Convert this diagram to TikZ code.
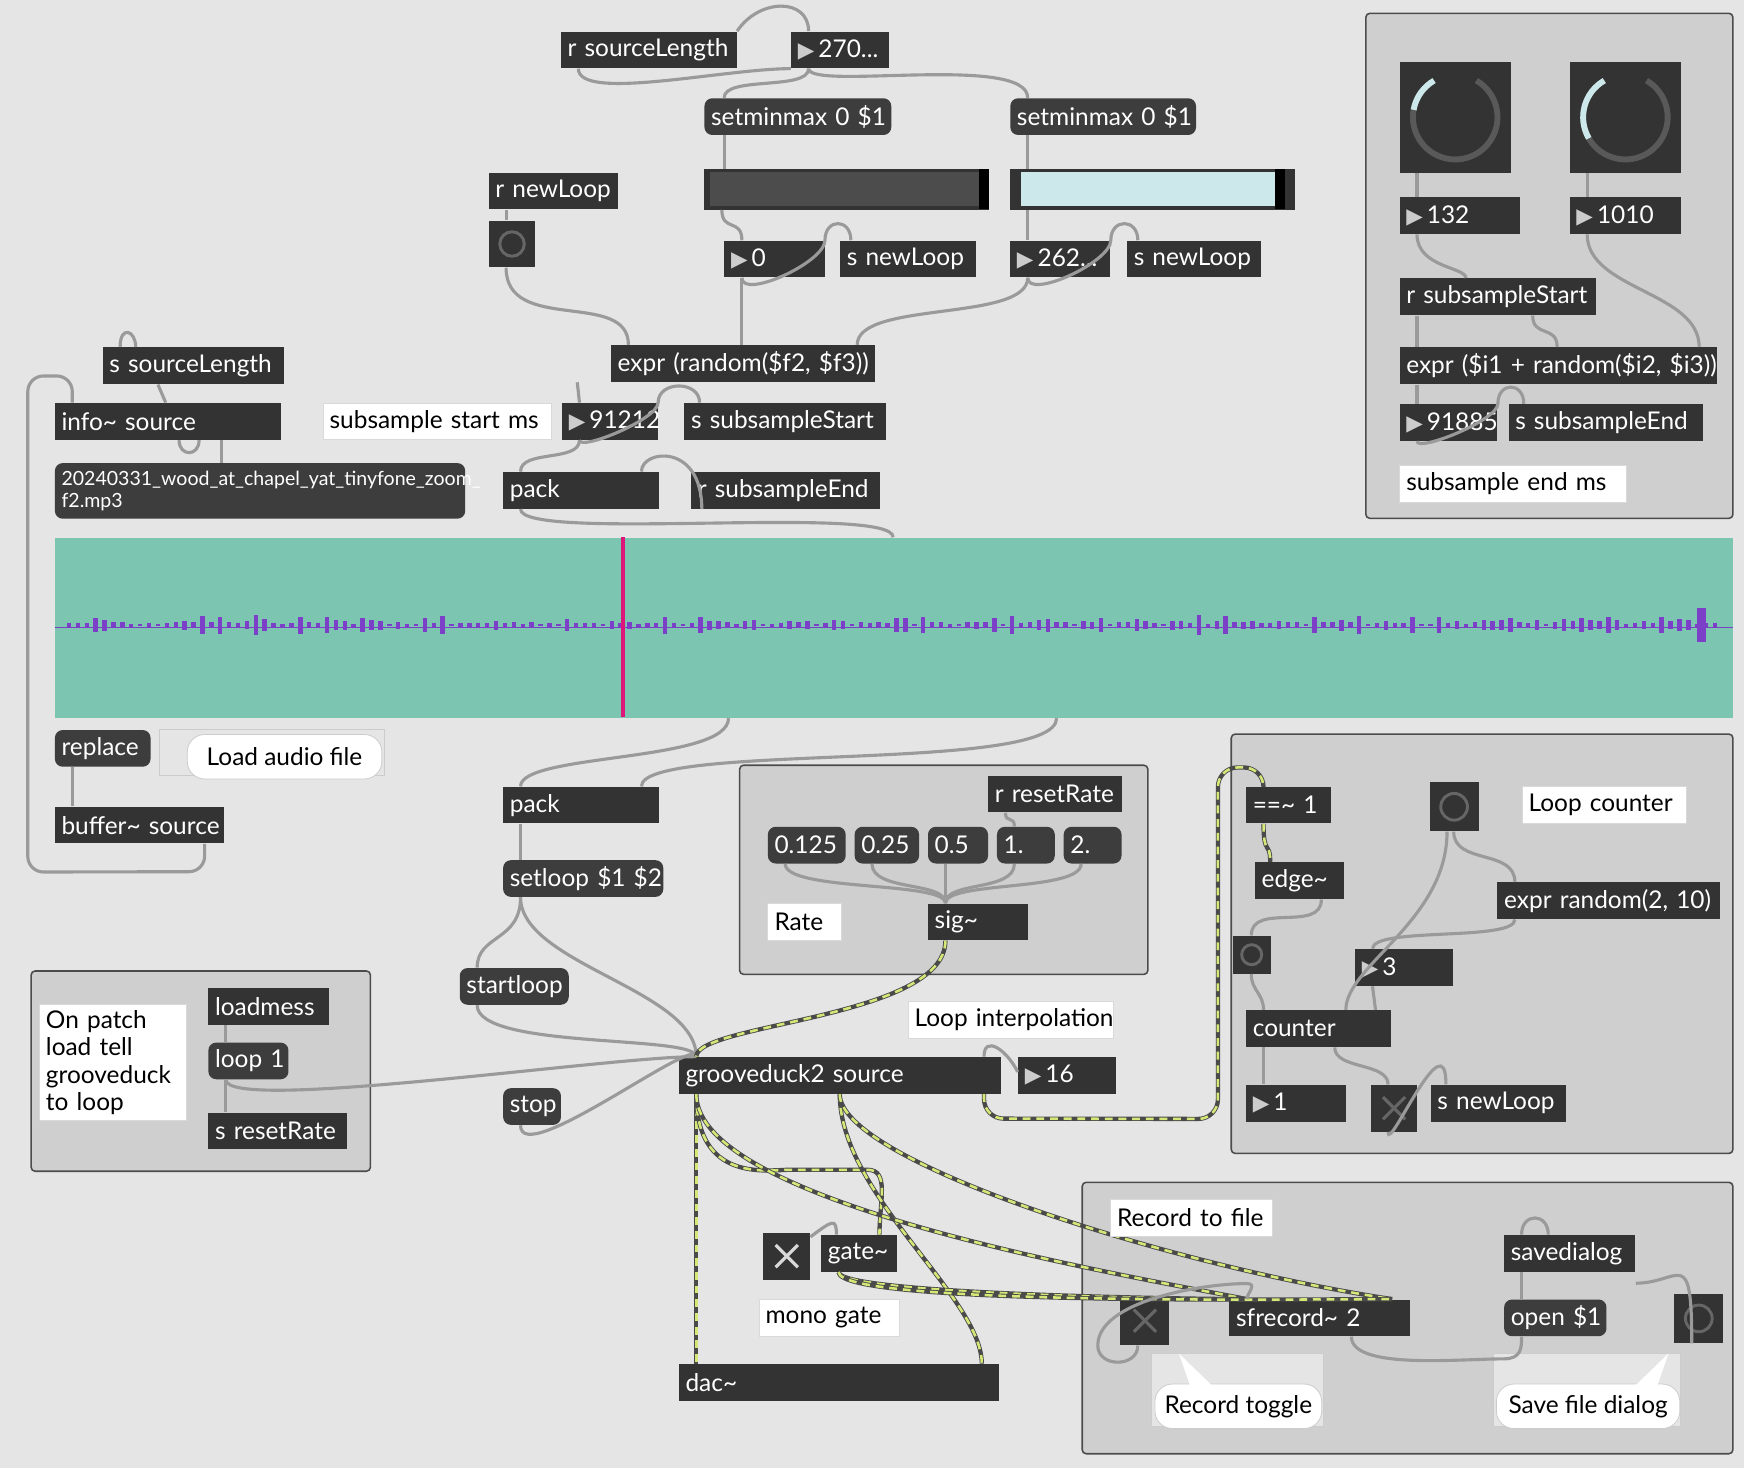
\documentclass[tikz,border=0pt]{standalone}
\usepackage{fontspec}
\setmainfont{Lato}
\newfontfamily\dejavu{DejaVu Sans}
\usetikzlibrary{calc}
\definecolor{maxbg}{HTML}{E5E5E5}
\definecolor{maxobj}{HTML}{333333}
\definecolor{maxmsg}{HTML}{3D3D3D}
\definecolor{panel}{HTML}{CFCFCF}
\definecolor{cordgray}{HTML}{9A9A9A}
\definecolor{sigdark}{HTML}{4A4A4A}
\definecolor{sigyel}{HTML}{D4E878}
\definecolor{wave}{HTML}{7CC5B1}
\definecolor{wavep}{HTML}{7B3FC8}
\definecolor{dialc}{HTML}{CDE8EA}
\newcommand\tri{{\dejavu\fontsize{11}{11}\selectfont\color{black!20}▶}\,}
\newcommand\tx{\textasciitilde}
\tikzset{
  objbox/.style={anchor=north west, fill=maxobj, text=white, inner xsep=0.12cm, inner ysep=0pt,
    minimum height=0.66cm, align=left, font=\fontsize{12.5}{14}\selectfont},
  msgbox/.style={objbox, fill=maxmsg, rounded corners=4pt},
  cmtbox/.style={objbox, fill=white, text=black, draw=white!85!black},
  panelbox/.style={fill=panel, draw=black!70, line width=0.8pt, rounded corners=2pt},
  cord/.style={draw=cordgray, line width=1.6pt},
  sig/.style={draw=sigdark, line width=2.2pt, postaction={draw=sigyel, line width=1.3pt, dash pattern=on 4pt off 3pt}},
  uibox/.style={anchor=north west, fill=maxobj, inner sep=0pt},
  bubble/.style={anchor=north west, fill=white, draw=white!80!black, rounded corners=9pt,
    minimum height=0.8cm, font=\fontsize{12.5}{14}\selectfont}
}
% box of width w (pixels) with left text on one line
\newcommand\obj[6][]{\pgfmathsetlengthmacro\tw{(#5-12)*0.02cm}%
  \node[objbox,text width=\tw,#1] (#2) at (#3,#4) {\mbox{#6}};}
\newcommand\ui[5][]{\pgfmathsetlengthmacro\tw{#4*0.02cm}\pgfmathsetlengthmacro\th{#5*0.02cm}%
  \node[uibox,minimum width=\tw,minimum height=\th,#1] (#2) at (#3) {};}
\begin{document}
\begin{tikzpicture}[x=0.02cm,y=-0.02cm]
\useasboundingbox (0,0) rectangle (1568,1320);
\fill[maxbg] (0,0) rectangle (1568,1320);
% panels
\draw[panelbox] (1228,12) rectangle (1558,466);
\draw[panelbox] (665,688) rectangle (1032,876);
\draw[panelbox] (28,873) rectangle (333,1053);
\draw[panelbox] (1107,660) rectangle (1558,1037);
\draw[panelbox] (973,1063) rectangle (1558,1307);

% top area
\obj{rsl}{504}{28}{158}{r sourceLength}
\obj{nlen}{711}{28}{88}{\tri270...}
\obj[msgbox]{smma}{633}{88}{168}{setminmax 0 \$1}
\obj[msgbox]{smmb}{908}{88}{167}{setminmax 0 \$1}
\ui{sla}{633,152}{256}{36}
\fill[black!70] (638,155) rectangle (880,185);
\fill[black] (880,152) rectangle (889,188);
\ui{slb}{908,152}{256}{36}
\fill[dialc] (918,155) rectangle (1146,185);
\fill[black] (1146,152) rectangle (1155,188);
\obj{rnl}{439}{155}{116}{r newLoop}
\ui{btna}{439,198}{42}{42}
\draw[black!60, line width=1.5pt] (btna.center) circle (11);
\obj{nzero}{651}{216}{90}{\tri0}
\obj{snla}{755}{216}{122}{s newLoop}
\obj{nmax}{908}{216}{90}{\tri262...}
\obj{snlb}{1013}{216}{120}{s newLoop}
\obj{exa}{549}{310}{237}{expr (random(\$f2, \$f3))}
\obj{ssl}{92}{312}{163}{s sourceLength}
\obj{info}{49}{362}{203}{info\tx{} source}
\obj[cmtbox]{cstart}{290}{362}{205}{subsample start ms}
\obj{nstart}{505}{362}{86}{\tri91212}
\obj{sss}{615}{362}{181}{s subsampleStart}
\node[msgbox,text width=7.14cm,minimum height=1cm,font=\fontsize{10}{11}\selectfont] (file) at (49,416) {20240331\_wood\_at\_chapel\_yat\_tinyfone\_zoom\_\\f2.mp3};
\obj{packa}{452}{424}{140}{pack}
\obj{rse}{621}{424}{170}{r subsampleEnd}

% waveform
\node[anchor=north west, fill=wave, minimum width=30.18cm, minimum height=3.24cm, inner sep=0pt] (wf) at (49,483) {};
\draw[wavep, line width=0.8pt] (wf.west) -- (wf.east);
\pgfmathsetseed{7}
\foreach \x in {60,68,...,1540}{
  \pgfmathsetmacro\hh{rnd*rnd*9+1}
  \fill[wavep] (\x,562-\hh) rectangle (\x+4,562+\hh);
}
\fill[wavep] (1526,547) rectangle (1534,577);
\draw[magenta!70!purple, line width=2pt] (560,483) -- (560,645);

\obj[msgbox]{repl}{49}{656}{86}{replace}
\draw[white!80!black, fill=maxbg] (143,656) rectangle (346,697);
\node[bubble, minimum width=3.5cm] (cload) at (168,660) {Load audio file};
\obj{buf}{49}{725}{152}{buffer\tx{} source}
\obj{packb}{452}{707}{140}{pack}
\obj[msgbox]{setl}{452}{773}{144}{setloop \$1 \$2}
\obj[msgbox]{startl}{413}{870}{98}{startloop}
\obj[msgbox]{stopm}{452}{978}{52}{stop}
\obj{gd}{610}{950}{290}{grooveduck2 source}
\obj{nint}{915}{950}{88}{\tri16}
\obj[cmtbox]{cint}{816}{900}{185}{Loop interpolation}

% rate panel
\obj{rrr}{888}{697}{120}{r resetRate}
\obj[msgbox]{ra}{690}{743}{70}{0.125}
\obj[msgbox]{rb}{768}{743}{58}{0.25}
\obj[msgbox]{rc}{834}{743}{54}{0.5}
\obj[msgbox]{rd}{896}{743}{52}{1.}
\obj[msgbox]{re}{956}{743}{52}{2.}
\obj[cmtbox]{crate}{690}{812}{66}{Rate}
\obj{sigo}{834}{812}{90}{sig\tx}

% patch load panel
\node[cmtbox,text width=2.4cm,minimum height=2.08cm] (cload2) at (35,903) {On patch\\load tell\\grooveduck\\to loop};
\obj{lmess}{187}{888}{108}{loadmess}
\obj[msgbox]{loopm}{187}{937}{72}{loop 1}
\obj{srr}{187}{1000}{125}{s resetRate}

% output
\obj{dac}{610}{1226}{288}{dac\tx}
\ui{tga}{686,1108}{42}{42}
\draw[white!85!black, line width=1.6pt] ($(tga.center)+(-10,-10)$) -- ($(tga.center)+(10,10)$) ($(tga.center)+(-10,10)$) -- ($(tga.center)+(10,-10)$);
\obj{gate}{738}{1110}{68}{gate\tx}
\obj[cmtbox]{cmono}{682}{1168}{126}{mono gate}

% subsample end panel
\ui{dla}{1258,55}{100}{100}
\ui{dlb}{1411,55}{100}{100}
\draw[black!65, line width=3pt] ($(dla.center)+(-60:38)$) arc (-60:240:38);
\draw[dialc, line width=3pt] ($(dla.center)+(190:38)$) arc (190:240:38);
\draw[black!65, line width=3pt] ($(dlb.center)+(-60:38)$) arc (-60:240:38);
\draw[dialc, line width=3pt] ($(dlb.center)+(150:38)$) arc (150:240:38);
\obj{nlo}{1258}{177}{108}{\tri132}
\obj{nhi}{1411}{177}{100}{\tri1010}
\obj{rss}{1258}{250}{177}{r subsampleStart}
\obj{exb}{1258}{312}{285}{expr (\$i1 + random(\$i2, \$i3))}
\obj{nend}{1258}{363}{88}{\tri91885}
\obj{sse}{1356}{363}{175}{s subsampleEnd}
\obj[cmtbox]{cend}{1258}{418}{204}{subsample end ms}

% loop counter panel
\obj{eq}{1120}{707}{76}{==\tx{} 1}
\ui{btnb}{1285,703}{44}{44}
\draw[black!60, line width=1.5pt] (btnb.center) circle (12);
\obj[cmtbox]{ccount}{1368}{707}{148}{Loop counter}
\obj{edge}{1128}{775}{80}{edge\tx}
\obj{exc}{1346}{793}{200}{expr random(2, 10)}
\ui{btnc}{1108,841}{34}{34}
\draw[black!60, line width=1.5pt] (btnc.center) circle (9);
\obj{nthr}{1218}{853}{88}{\tri3}
\obj{cnt}{1120}{908}{130}{counter}
\obj{ncnt}{1120}{975}{90}{\tri1}
\ui{tgb}{1232,975}{42}{42}
\draw[black!60, line width=1.6pt] ($(tgb.center)+(-10,-10)$) -- ($(tgb.center)+(10,10)$) ($(tgb.center)+(-10,10)$) -- ($(tgb.center)+(10,-10)$);
\obj{snlc}{1286}{975}{122}{s newLoop}

% record panel
\obj{sdlg}{1352}{1110}{118}{savedialog}
\ui{tgc}{1007,1165}{44}{44}
\draw[black!60, line width=1.6pt] ($(tgc.center)+(-10,-10)$) -- ($(tgc.center)+(10,10)$) ($(tgc.center)+(-10,10)$) -- ($(tgc.center)+(10,-10)$);
\obj{sfr}{1105}{1168}{162}{sfrecord\tx{} 2}
\obj[msgbox]{openm}{1352}{1168}{92}{open \$1}
\ui{btnd}{1505,1163}{44}{44}
\draw[black!60, line width=1.5pt] (btnd.center) circle (12);
\draw[white!80!black, fill=maxbg] (1035,1217) rectangle (1190,1282);
\draw[white!80!black, fill=maxbg] (1343,1217) rectangle (1511,1282);
\node[bubble, minimum width=3.0cm] (ctog) at (1038,1244) {Record toggle};
\node[bubble, minimum width=3.3cm] (cdlg) at (1345,1244) {Save file dialog};
\fill[white] (1060,1217) -- (1090,1246) -- (1070,1246) -- cycle;
\fill[white] (1500,1217) -- (1470,1246) -- (1490,1246) -- cycle;

% cords
\draw[cord] ($(rsl.south west)+(16,0)$) .. controls +(0,30) and +(-60,0) .. ($(nlen.south west)+(0,0)$);
\draw[cord] ($(rsl.north east)+(0,0)$) .. controls +(20,-30) and +(0,-30) .. ($(nlen.north west)+(16,0)$);
\draw[cord] ($(nlen.south west)+(16,0)$) .. controls +(0,20) and +(0,-20) .. ($(smma.north west)+(18,0)$);
\draw[cord] ($(nlen.south west)+(16,0)$) .. controls +(0,20) and +(0,-40) .. ($(smmb.north west)+(16,0)$);
\draw[cord] ($(smma.south west)+(18,0)$) -- ($(sla.north west)+(18,0)$);
\draw[cord] ($(smmb.south west)+(16,0)$) -- ($(slb.north west)+(16,0)$);
\draw[cord] ($(sla.south west)+(16,0)$) .. controls +(0,20) and +(0,-20) .. ($(nzero.north west)+(16,0)$);
\draw[cord] ($(slb.south west)+(16,0)$) -- ($(nmax.north west)+(16,0)$);
\draw[cord] ($(nzero.south west)+(16,0)$) .. controls +(0,20) and +(0,20) .. ($(nzero.north east)+(0,0)$) .. controls +(0,-20) and +(0,-20) .. ($(snla.north west)+(10,0)$);
\draw[cord] ($(nmax.south west)+(16,0)$) .. controls +(0,20) and +(0,20) .. ($(nmax.north east)+(0,0)$) .. controls +(0,-20) and +(0,-20) .. ($(snlb.north west)+(10,0)$);
\draw[cord] ($(nzero.south west)+(16,0)$) -- ($(exa.north west)+(118,0)$);
\draw[cord] ($(nmax.south west)+(16,0)$) .. controls +(0,40) and +(0,-40) .. ($(exa.north east)+(-16,0)$);
\draw[cord] ($(rnl.south west)+(16,0)$) -- ($(btna.north west)+(16,0)$);
\draw[cord] ($(btna.south west)+(16,0)$) .. controls +(0,60) and +(0,-50) .. ($(exa.north west)+(16,0)$);
\draw[cord] ($(exa.south west)+(-30,0)$) -- ($(nstart.north west)+(16,0)$);
\draw[cord] ($(nstart.south west)+(16,0)$) .. controls +(0,10) and +(0,15) .. ($(nstart.north east)+(0,0)$) .. controls +(0,-20) and +(0,-20) .. ($(sss.north west)+(14,0)$);
\draw[cord] ($(nstart.south west)+(16,0)$) .. controls +(0,20) and +(0,-20) .. ($(packa.north west)+(16,0)$);
\draw[cord] ($(rse.south west)+(10,0)$) .. controls +(0,-60) and +(0,-20) .. ($(packa.north east)+(-16,0)$);
\draw[cord] ($(packa.south west)+(16,0)$) .. controls +(0,30) and +(0,-30) .. ($(wf.north west)+(754,0)$);
\draw[cord] ($(ssl.south west)+(50,0)$) -- ($(info.north west)+(100,0)$);
\draw[cord] ($(ssl.north west)+(16,0)$) .. controls +(0,-20) and +(0,-15) .. ($(ssl.north west)+(30,0)$);
\draw[cord] ($(info.south west)+(150,0)$) -- ($(file.north west)+(150,0)$);
\draw[cord] ($(info.south west)+(130,0)$) .. controls +(0,15) and +(0,15) .. ($(info.south west)+(112,0)$);
\draw[cord, rounded corners=8pt] ($(buf.south west)+(135,0)$) -- ($(buf.south west)+(135,25)$) -- (25,784) -- (25,338) -- ($(info.north west)+(16,-24)$) -- ($(info.north west)+(16,0)$);
\draw[cord] ($(repl.south west)+(16,0)$) -- ($(buf.north west)+(16,0)$);
\draw[cord] ($(wf.south west)+(606,0)$) .. controls +(0,40) and +(0,-30) .. ($(packb.north west)+(16,0)$);
\draw[cord] ($(wf.south west)+(901,0)$) .. controls +(0,50) and +(0,-40) .. ($(packb.north east)+(-16,0)$);
\draw[cord] ($(packb.south west)+(16,0)$) -- ($(setl.north west)+(16,0)$);
\draw[cord] ($(setl.south west)+(16,0)$) .. controls +(0,40) and +(0,-30) .. ($(startl.north west)+(16,0)$);
\draw[cord] ($(setl.south west)+(16,0)$) .. controls +(0,60) and +(0,-60) .. ($(gd.north west)+(16,0)$);
\draw[cord] ($(startl.south west)+(16,0)$) .. controls +(0,40) and +(0,-20) .. ($(gd.north west)+(16,0)$);
\draw[cord] ($(stopm.south west)+(16,0)$) .. controls +(0,40) and +(0,-20) .. ($(gd.north west)+(16,0)$);
\draw[cord] ($(loopm.south west)+(16,0)$) .. controls +(0,30) and +(-80,0) .. ($(gd.north west)+(16,0)$);
\draw[cord] ($(lmess.south west)+(16,0)$) -- ($(loopm.north west)+(16,0)$);
\draw[cord] ($(loopm.south west)+(16,0)$) -- ($(srr.north west)+(16,0)$);
\draw[cord] ($(nint.south west)+(0,-20)$) .. controls +(-10,-20) and +(0,-20) .. ($(gd.north east)+(-16,0)$);
\foreach \m in {ra,rb,rc,rd,re}{
  \draw[cord] ($(\m.south west)+(16,0)$) .. controls +(0,25) and +(0,-20) .. ($(sigo.north west)+(16,0)$);
}
\draw[cord] ($(rrr.south west)+(16,0)$) .. controls +(0,10) and +(0,-10) .. ($(rd.north west)+(16,0)$);
\draw[sig] ($(sigo.south west)+(16,0)$) .. controls +(0,70) and +(0,-30) .. ($(gd.north west)+(16,0)$);
% audio
\draw[sig] ($(gd.south west)+(16,0)$) -- ($(dac.north west)+(16,0)$);
\draw[sig] ($(gd.south west)+(16,0)$) .. controls +(0,80) and +(-20,0) .. ($(gd.south west)+(100,68)$) -- ($(gd.south west)+(170,68)$) .. controls +(20,0) and +(0,-30) .. ($(gate.north east)+(-16,0)$);
\draw[sig] ($(gd.south west)+(145,0)$) .. controls +(0,90) and +(0,-60) .. ($(dac.north east)+(-16,0)$);
\draw[sig] ($(gd.south west)+(16,0)$) .. controls +(0,100) and +(-100,-20) .. ($(sfr.north west)+(16,0)$);
\draw[sig] ($(gd.south west)+(145,0)$) .. controls +(0,60) and +(-200,-30) .. ($(sfr.north east)+(-16,0)$);
\draw[sig] ($(gate.south west)+(16,0)$) .. controls +(0,20) and +(-50,0) .. ($(sfr.north west)+(16,0)$);
\draw[sig] ($(gate.south west)+(16,0)$) .. controls +(0,30) and +(-80,0) .. ($(sfr.north east)+(-16,0)$);
\draw[sig, rounded corners=10pt] ($(gd.south east)+(-16,0)$) -- ($(gd.south east)+(-16,22)$) -- (1095,1006) -- (1095,690) -- ($(eq.north west)+(16,-17)$) -- ($(eq.north west)+(16,0)$);
\obj[cmtbox]{crec}{998}{1078}{146}{Record to file}
\draw[cord] ($(tga.north east)+(0,4)$) .. controls +(20,-15) and +(0,-15) .. ($(gate.north west)+(14,0)$);
\draw[sig] ($(eq.south west)+(16,0)$) .. controls +(0,30) and +(0,-20) .. ($(edge.north west)+(14,0)$);
\draw[cord] ($(edge.south west)+(60,0)$) .. controls +(0,30) and +(0,-30) .. ($(btnc.north west)+(17,0)$);
\draw[cord] ($(btnc.south west)+(17,0)$) .. controls +(0,15) and +(0,-15) .. ($(cnt.north west)+(16,0)$);
\draw[cord] ($(btnb.south west)+(16,0)$) .. controls +(0,80) and +(0,-40) .. ($(cnt.north west)+(90,0)$);
\draw[cord] ($(btnb.south west)+(22,0)$) .. controls +(0,30) and +(0,-30) .. ($(exc.north west)+(16,0)$);
\draw[cord] ($(exc.south west)+(16,0)$) .. controls +(0,20) and +(0,-20) .. ($(nthr.north west)+(16,0)$);
\draw[cord] ($(nthr.south west)+(16,0)$) -- ($(cnt.north east)+(-14,0)$);
\draw[cord] ($(cnt.south west)+(16,0)$) -- ($(ncnt.north west)+(16,0)$);
\draw[cord] ($(cnt.south west)+(80,0)$) .. controls +(0,20) and +(0,-20) .. ($(tgb.north west)+(16,0)$);
\draw[cord] ($(tgb.south west)+(16,0)$) .. controls +(0,20) and +(0,-60) .. ($(snlc.north west)+(14,0)$);
\draw[cord] ($(dla.south west)+(16,0)$) -- ($(nlo.north west)+(16,0)$);
\draw[cord] ($(dlb.south west)+(16,0)$) -- ($(nhi.north west)+(16,0)$);
\draw[cord] ($(nlo.south west)+(16,0)$) .. controls +(0,30) and +(0,-10) .. ($(rss.north west)+(60,0)$);
\draw[cord] ($(nhi.south west)+(16,0)$) .. controls +(0,50) and +(0,-50) .. ($(exb.north east)+(-16,0)$);
\draw[cord] ($(rss.south west)+(16,0)$) -- ($(exb.north west)+(16,0)$);
\draw[cord] ($(rss.south west)+(120,0)$) .. controls +(0,20) and +(0,-20) .. ($(exb.north west)+(142,0)$);
\draw[cord] ($(exb.south west)+(16,0)$) -- ($(nend.north west)+(16,0)$);
\draw[cord] ($(nend.south west)+(16,0)$) .. controls +(0,10) and +(0,15) .. ($(nend.north east)+(0,0)$) .. controls +(0,-20) and +(0,-20) .. ($(sse.north west)+(14,0)$);
\draw[cord] ($(tgc.south west)+(16,0)$) .. controls +(0,20) and +(0,20) .. ($(tgc.south west)+(-20,0)$) .. controls +(0,-40) and +(-40,0) .. ($(sfr.north west)+(16,-14)$) .. controls +(10,0) and +(0,-5) .. ($(sfr.north west)+(16,0)$);
\draw[cord] ($(sfr.south west)+(110,0)$) .. controls +(0,30) and +(-40,0) .. ($(openm.south west)+(0,20)$) .. controls +(16,0) and +(0,10) .. ($(openm.south west)+(16,0)$);
\draw[cord] ($(sdlg.south west)+(16,0)$) -- ($(openm.north west)+(16,0)$);
\draw[cord] ($(btnd.south west)+(16,0)$) .. controls +(0,-90) and +(40,0) .. ($(sdlg.south east)+(0,10)$);
\draw[cord] ($(sdlg.north west)+(16,0)$) .. controls +(0,-20) and +(0,-20) .. ($(sdlg.north west)+(40,0)$);
\end{tikzpicture}
\end{document}
